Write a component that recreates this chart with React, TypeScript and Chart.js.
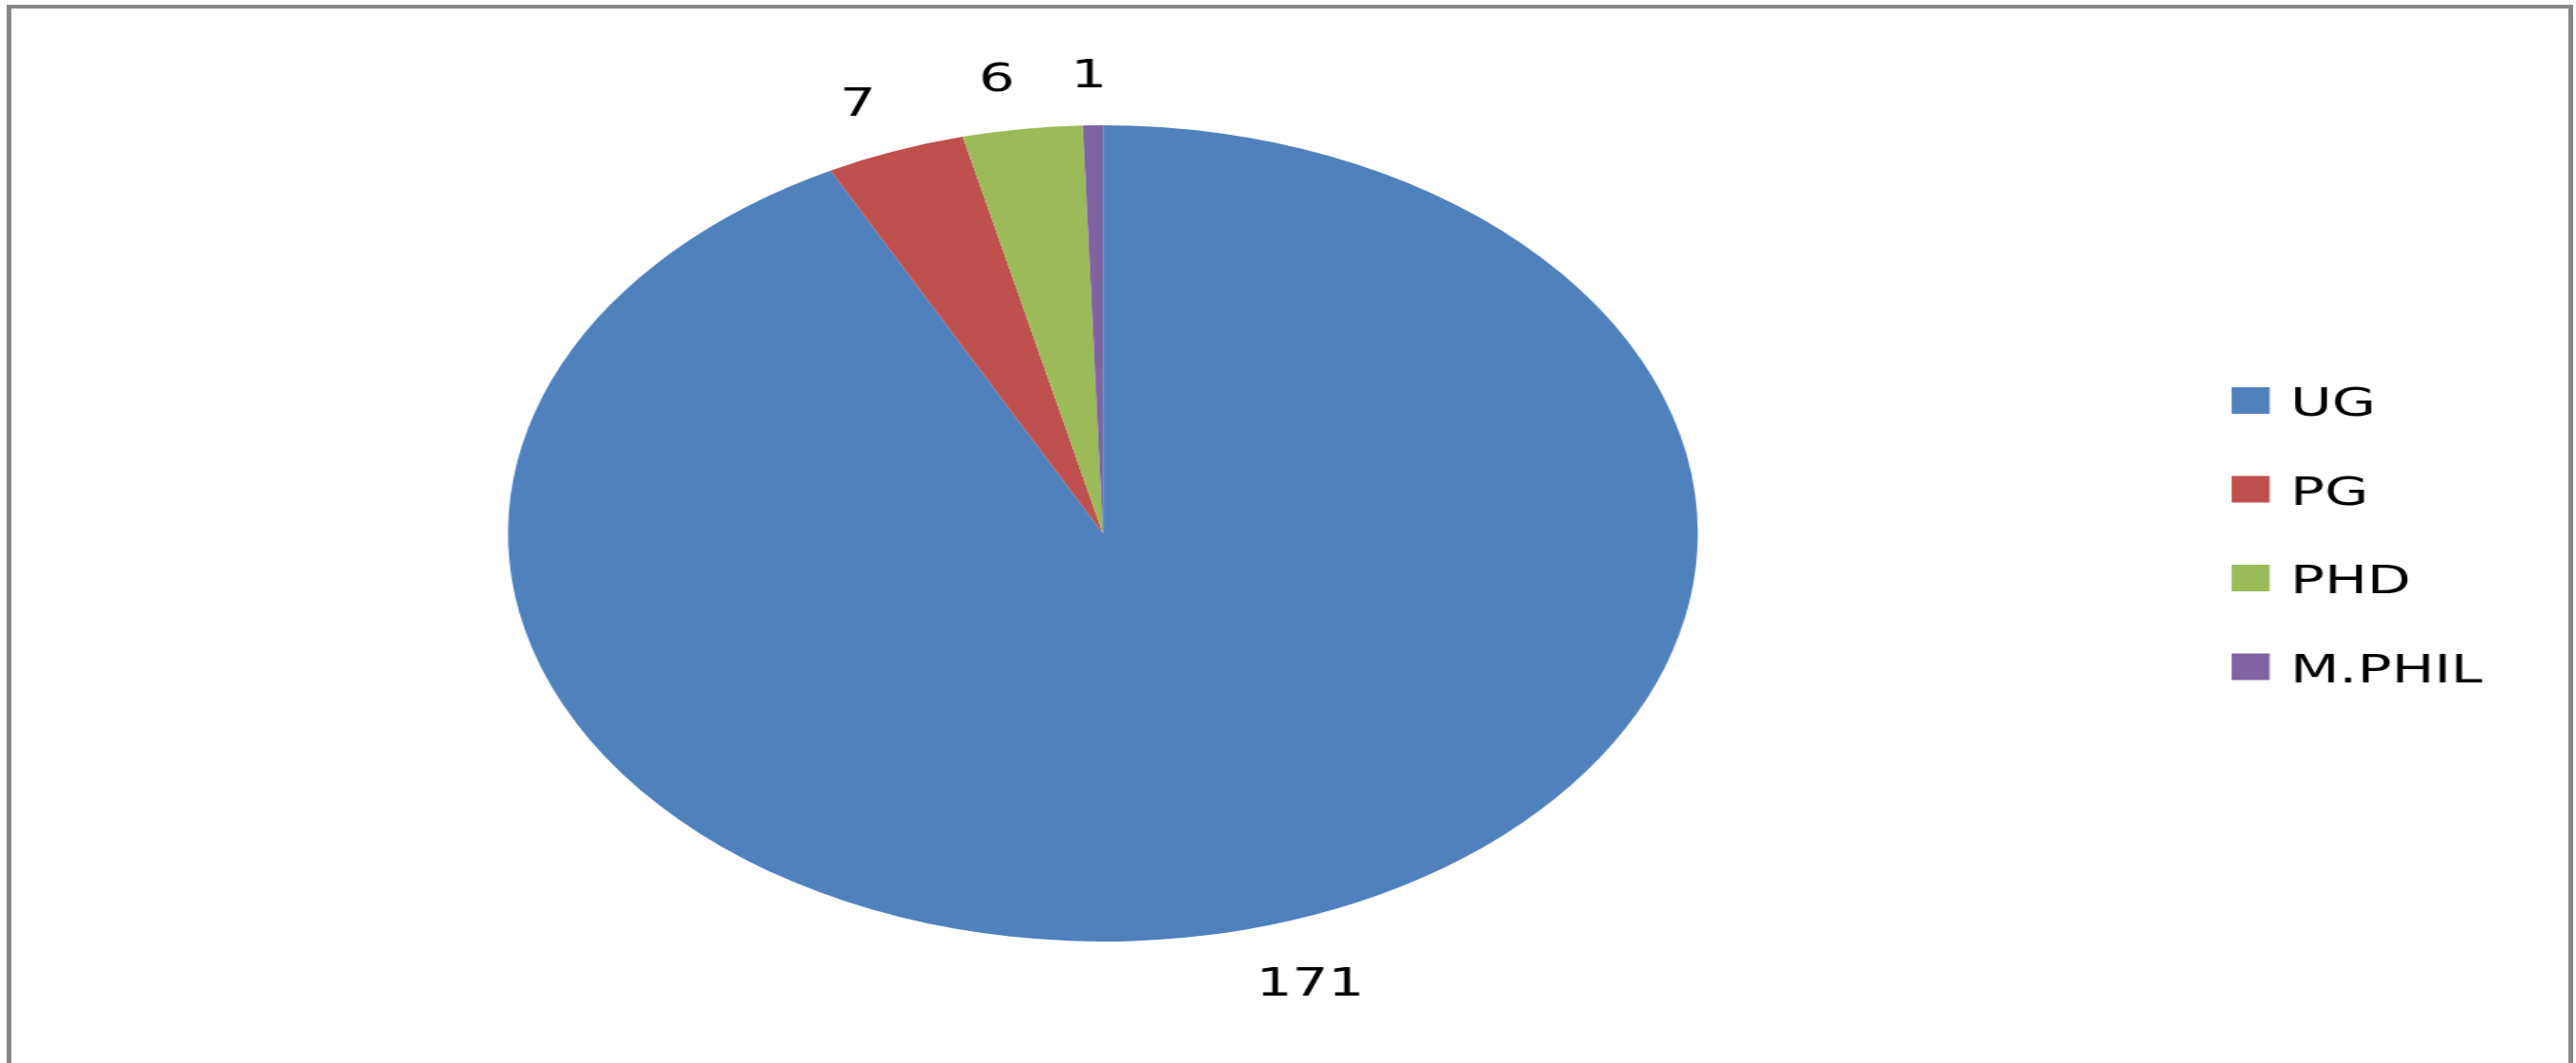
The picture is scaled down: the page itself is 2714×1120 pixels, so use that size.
import React, { useEffect, useRef } from "react";
import { Chart, registerables } from "chart.js";

Chart.register(...registerables);

// ---- data ----
const categories = ["UG", "PG", "PHD", "M.PHIL"];
const counts = [171, 7, 6, 1];
const sliceColors = ["#4F81BD", "#C0504D", "#9BBB59", "#8064A2"];

// ---- layout / style constants ----
const PAGE_W = 2714;
const PAGE_H = 1120;
const CANVAS_W = 1862; // drawn un-stretched, then stretched horizontally like the reference
const STRETCH = PAGE_W / CANVAS_W;
const FONT = "41px 'DejaVu Sans', Verdana, sans-serif";
const CAP_H = 30;

const clamp = (v: number) => Math.max(-1, Math.min(1, v));

const outsideLabels = {
  id: "outsideLabels",
  afterDatasetsDraw(chart: any) {
    const ctx = chart.ctx;
    const meta = chart.getDatasetMeta(0);
    const values = chart.data.datasets[0].data as number[];
    const gap = 40;
    ctx.save();
    ctx.font = FONT;
    ctx.fillStyle = "#000000";
    ctx.textAlign = "center";
    ctx.textBaseline = "alphabetic";
    meta.data.forEach((arc: any, i: number) => {
      const { x, y, startAngle, endAngle, outerRadius } = arc.getProps(
        ["x", "y", "startAngle", "endAngle", "outerRadius"],
        true
      );
      const mid = (startAngle + endAngle) / 2;
      const dx = Math.cos(mid);
      const dy = Math.sin(mid);
      const ax = x + (outerRadius + gap) * dx;
      const ay = y + (outerRadius + gap) * dy;
      const text = String(values[i]);
      const w = ctx.measureText(text).width;
      const cx = ax + (w / 2) * clamp(10 * dx);
      const cy = ay + (CAP_H / 2) * clamp(10 * dy);
      ctx.fillText(text, cx, cy + CAP_H / 2);
    });
    ctx.restore();
  },
};

const sideLegend = {
  id: "sideLegend",
  afterDraw(chart: any) {
    const ctx = chart.ctx;
    const labels = chart.data.labels as string[];
    const colors = chart.data.datasets[0].backgroundColor as string[];
    const boxX = 1613;
    const boxW = 27.5;
    const boxH = 28;
    const textX = 1655.5;
    const top0 = 408;
    const step = 93.5;
    ctx.save();
    ctx.font = FONT;
    ctx.textAlign = "left";
    ctx.textBaseline = "alphabetic";
    labels.forEach((lab, i) => {
      const top = top0 + i * step;
      ctx.fillStyle = colors[i];
      ctx.fillRect(boxX, top, boxW, boxH);
      ctx.fillStyle = "#000000";
      ctx.fillText(lab, textX, top + CAP_H);
    });
    ctx.restore();
  },
};

export default function App() {
  const canvasRef = useRef<HTMLCanvasElement | null>(null);

  useEffect(() => {
    if (!canvasRef.current) return;
    const chart = new Chart(canvasRef.current, {
      type: "pie",
      data: {
        labels: categories,
        datasets: [
          {
            data: counts,
            backgroundColor: sliceColors,
            borderWidth: 0,
          },
        ],
      },
      options: {
        responsive: false,
        maintainAspectRatio: false,
        devicePixelRatio: 1,
        animation: false,
        events: [],
        layout: {
          padding: { left: 367.2, right: CANVAS_W - 1227.2, top: 132, bottom: PAGE_H - 992 },
        },
        plugins: {
          legend: { display: false },
          tooltip: { enabled: false },
          title: { display: false },
        },
      },
      plugins: [outsideLabels, sideLegend],
    });
    return () => chart.destroy();
  }, []);

  return (
    <div
      style={{
        position: "fixed",
        left: 0,
        top: 0,
        width: PAGE_W,
        height: PAGE_H,
        overflow: "hidden",
        background: "#ffffff",
      }}
    >
      <div
        style={{
          position: "absolute",
          left: 0,
          top: 0,
          width: CANVAS_W,
          height: PAGE_H,
          transform: `scaleX(${STRETCH})`,
          transformOrigin: "0 0",
        }}
      >
        <canvas ref={canvasRef} width={CANVAS_W} height={PAGE_H} style={{ display: "block" }} />
      </div>
      <div
        style={{
          position: "absolute",
          left: 7,
          top: 5,
          width: 2704,
          height: 1200,
          boxSizing: "border-box",
          borderTop: "4px solid #878787",
          borderLeft: "5px solid #878787",
          borderRight: "5px solid #878787",
          pointerEvents: "none",
        }}
      />
    </div>
  );
}
